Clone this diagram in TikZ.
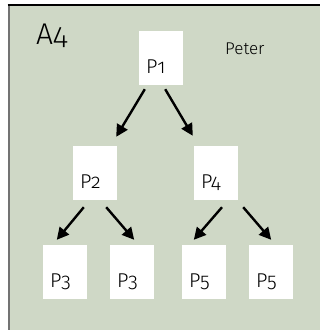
\documentclass[tikz,border=0pt]{standalone}
\usepackage{fontspec}
\setmainfont{Fira Sans Light}[Numbers=OldStyle]
\usetikzlibrary{arrows.meta}
\definecolor{bgc}{RGB}{207,216,198}
\tikzset{
  box/.style={fill=white, draw=none, minimum width=44pt, minimum height=54pt, inner sep=0pt},
  lbl/.style={font=\fontsize{20}{20}\selectfont, inner sep=0pt, anchor=base west},
  arr/.style={line width=2.4pt, -{Triangle[length=12pt,width=12pt]}}
}
\begin{document}
\begin{tikzpicture}[x=1pt,y=-1pt]
\useasboundingbox (0,0) rectangle (320,330);
\fill[bgc] (8.5,5) rectangle (320,330);
\draw[line width=2pt, black!55] (8.5,5) -- (8.5,330);
\draw[line width=1.5pt, black] (7.5,5) -- (320,5);
\node[font=\fontsize{30}{30}\selectfont, inner sep=0pt, anchor=base west] (a4) at (36,44) {A4};
\node[font=\fontsize{17}{17}\selectfont, inner sep=0pt, anchor=base west] (peter) at (225,54) {Peter};
\node[box] (p1) at (161,58) {};
\node[box] (p2) at (95,173) {};
\node[box] (p4) at (216,173) {};
\node[box] (p3a) at (65,272) {};
\node[box] (p3b) at (132,272) {};
\node[box] (p5a) at (204,272) {};
\node[box] (p5b) at (271,272) {};
\foreach \n/\t in {p1/P1,p2/P2,p4/P4,p3a/P3,p3b/P3,p5a/P5,p5b/P5}{
  \node[lbl] (t\n) at ([xshift=7pt,yshift=11.5pt]\n.south west) {\t};
}
\draw[arr] ([xshift=6pt,yshift=-4pt]p1.south west) -- ([xshift=-1pt,yshift=9pt]p2.north east);
\draw[arr] ([xshift=-18pt,yshift=-4pt]p1.south east) -- ([xshift=-1pt,yshift=10pt]p4.north west);
\draw[arr] ([xshift=11pt,yshift=-7pt]p2.south west) -- ([xshift=14pt,yshift=5pt]p3a.north west);
\draw[arr] ([xshift=-11pt,yshift=-7pt]p2.south east) -- ([xshift=-20pt,yshift=5pt]p3b.north east);
\draw[arr] ([xshift=6pt,yshift=-7pt]p4.south) -- ([xshift=12pt,yshift=5pt]p5a.north west);
\draw[arr] ([xshift=5pt,yshift=-7pt]p4.south east) -- ([xshift=-22pt,yshift=5pt]p5b.north east);
\end{tikzpicture}
\end{document}
